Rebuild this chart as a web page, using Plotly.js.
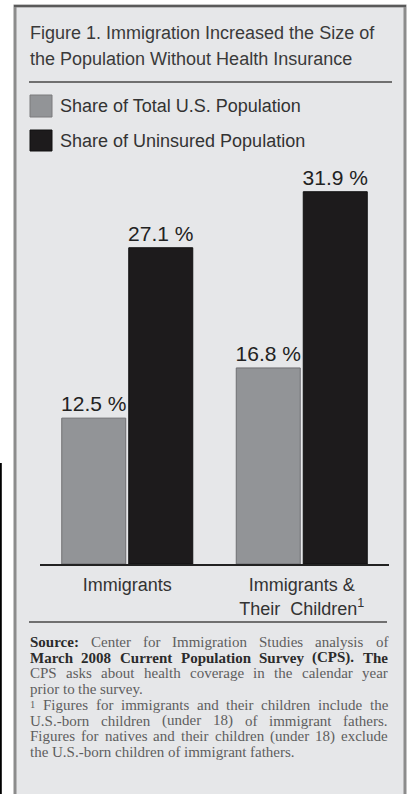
<!DOCTYPE html>
<html>
<head>
<meta charset="utf-8">
<script src="https://cdn.plot.ly/plotly-3.0.1.min.js"></script>
<style>
html,body{margin:0;padding:0;background:#fff;}
#chart{width:407px;height:794px;}
</style>
</head>
<body>
<div id="chart"></div>
<script>
// ---- data ----
const categories = ['Immigrants', 'Immigrants &amp;<br>Their\u00a0 Children<sup>1</sup>'];
const seriesNames = ['Share of Total U.S. Population', 'Share of Uninsured Population'];
const totalShare = [12.5, 16.8];
const uninsuredShare = [27.1, 31.9];
const seriesColors = ['#929497', '#1d1b1c'];
const titleLines = [
  'Figure 1. Immigration Increased the Size of',
  'the Population Without Health Insurance'
];
const sourceLines = [
  '<b>Source:</b> Center for Immigration Studies analysis of',
  '<b>March 2008 Current Population Survey (CPS). The</b>',
  'CPS asks about health coverage in the calendar year',
  'prior to the survey.',
  '<sup>1</sup> Figures for immigrants and their children include the',
  'U.S.-born children (under 18) of immigrant fathers.',
  'Figures for natives and their children (under 18) exclude',
  'the U.S.-born children of immigrant fathers.'
];
const justified = [true, true, true, false, true, true, true, false];

// ---- helpers (pixel -> paper) ----
const W = 407, H = 794;
const px = x => x / W;
const py = y => 1 - y / H;

const SANS = 'Liberation Sans, Arial, sans-serif';
const SERIF_NAME = 'Liberation Serif';
const SERIF = 'Liberation Serif, Times New Roman, serif';
const SRC_SIZE = 15;
const SRC_LEFT = 29, SRC_WIDTH = 358;

function build() {
  const traces = [
    {
      type: 'bar', name: seriesNames[0], x: [0, 1], y: totalShare,
      marker: {color: seriesColors[0], line: {color: '#6f6f72', width: 1}},
      texttemplate: '%{y:.1f} %', textposition: 'outside', constraintext: 'none',
      textfont: {family: SANS, size: 21, color: '#222'}, cliponaxis: false,
      hoverinfo: 'skip'
    },
    {
      type: 'bar', name: seriesNames[1], x: [0, 1], y: uninsuredShare,
      marker: {color: seriesColors[1], line: {color: '#111', width: 1}},
      texttemplate: '%{y:.1f} %', textposition: 'outside', constraintext: 'none',
      textfont: {family: SANS, size: 21, color: '#222'}, cliponaxis: false,
      hoverinfo: 'skip'
    }
  ];

  const shapes = [
    {type: 'rect', xref: 'paper', yref: 'paper', x0: px(15), x1: px(405), y0: py(6), y1: py(800),
     fillcolor: '#e6e7e9', line: {color: '#8c8c8c', width: 3}, layer: 'below'},
    {type: 'line', xref: 'paper', yref: 'paper', x0: px(14), x1: px(406), y0: py(6), y1: py(6),
     line: {color: '#5a5a5a', width: 2}, layer: 'below'},
    {type: 'line', xref: 'paper', yref: 'paper', x0: px(0.8), x1: px(0.8), y0: py(463), y1: py(794),
     line: {color: '#000', width: 2}},
    {type: 'line', xref: 'paper', yref: 'paper', x0: px(29), x1: px(392), y0: py(82), y1: py(82),
     line: {color: '#707070', width: 2}},
    {type: 'line', xref: 'paper', yref: 'paper', x0: px(29), x1: px(387), y0: py(622), y1: py(622),
     line: {color: '#707070', width: 2}},
    {type: 'rect', xref: 'paper', yref: 'paper', x0: px(30), x1: px(52), y0: py(95), y1: py(117),
     fillcolor: seriesColors[0], line: {color: '#7a7a7c', width: 1}},
    {type: 'rect', xref: 'paper', yref: 'paper', x0: px(30), x1: px(52), y0: py(130), y1: py(151),
     fillcolor: seriesColors[1], line: {color: '#111', width: 1}}
  ];

  const annotations = [];
  titleLines.forEach((t, i) => annotations.push({
    xref: 'paper', yref: 'paper', x: px(28), y: py(33 + i * 26), xanchor: 'left', yanchor: 'middle',
    text: t, showarrow: false, font: {family: SANS, size: 18, color: '#3a3a3a'}
  }));
  seriesNames.forEach((t, i) => annotations.push({
    xref: 'paper', yref: 'paper', x: px(58), y: py(106 + i * 35), xanchor: 'left', yanchor: 'middle',
    text: t, showarrow: false, font: {family: SANS, size: 18, color: '#333'}
  }));

  // source note: justified word by word
  const ctx = document.createElement('canvas').getContext('2d');
  const measure = (s, bold, size) => {
    ctx.font = (bold ? 'bold ' : '') + size + 'px "' + SERIF_NAME + '"';
    return ctx.measureText(s).width;
  };
  const spaceW = measure(' ', false, SRC_SIZE);
  sourceLines.forEach((line, i) => {
    let bold = false;
    const words = line.split(' ').filter(w => w.length).map(tok => {
      const opens = tok.indexOf('<b>') >= 0;
      const isBold = bold || opens;
      if (opens) bold = true;
      if (tok.indexOf('</b>') >= 0) bold = false;
      const isSup = tok.indexOf('<sup>') >= 0;
      const clean = tok.replace(/<[^>]+>/g, '');
      const w = measure(clean, isBold, isSup ? SRC_SIZE * 0.7 : SRC_SIZE);
      let text = isSup ? tok : clean;
      if (isBold) text = '<b>' + clean + '</b>';
      return {text, w, isBold};
    });
    const total = words.reduce((a, b) => a + b.w, 0);
    let gap = justified[i] && words.length > 1
      ? (SRC_WIDTH - total) / (words.length - 1)
      : spaceW;
    gap = Math.max(gap, spaceW * 0.6);
    let x = SRC_LEFT;
    words.forEach(wd => {
      annotations.push({
        xref: 'paper', yref: 'paper', x: px(x - 1), y: py(642 + i * 15.7),
        xanchor: 'left', yanchor: 'middle', text: wd.text, showarrow: false,
        font: {family: SERIF, size: SRC_SIZE, color: wd.isBold ? '#2b2b2b' : '#5e5e5e'}
      });
      x += wd.w + gap;
    });
  });

  const layout = {
    width: W, height: H,
    margin: {l: 0, r: 0, t: 0, b: 0, pad: 0},
    paper_bgcolor: '#ffffff', plot_bgcolor: 'rgba(0,0,0,0)',
    showlegend: false,
    barmode: 'group', bargap: 0.232, bargroupgap: 0.045,
    xaxis: {
      domain: [px(40), px(389)], range: [-0.5, 1.5], type: 'linear',
      tickmode: 'array', tickvals: [0, 1], ticktext: categories,
      showline: true, linecolor: '#222', linewidth: 1.5, showgrid: false, zeroline: false,
      ticks: '', tickfont: {family: SANS, size: 18, color: '#333'}, ticklabelstandoff: 4
    },
    yaxis: {
      domain: [1 - 564 / H, 1 - 170 / H], range: [0, 394 / 11.67],
      visible: false, showgrid: false, zeroline: false
    },
    shapes: shapes,
    annotations: annotations
  };

  Plotly.newPlot('chart', traces, layout, {staticPlot: true, displayModeBar: false});
}

const fontReady = (document.fonts && document.fonts.load)
  ? Promise.all([
      document.fonts.load(SRC_SIZE + 'px "' + SERIF_NAME + '"'),
      document.fonts.load('bold ' + SRC_SIZE + 'px "' + SERIF_NAME + '"')
    ]).catch(() => null)
  : Promise.resolve();
fontReady.then(build, build);
</script>
</body>
</html>
